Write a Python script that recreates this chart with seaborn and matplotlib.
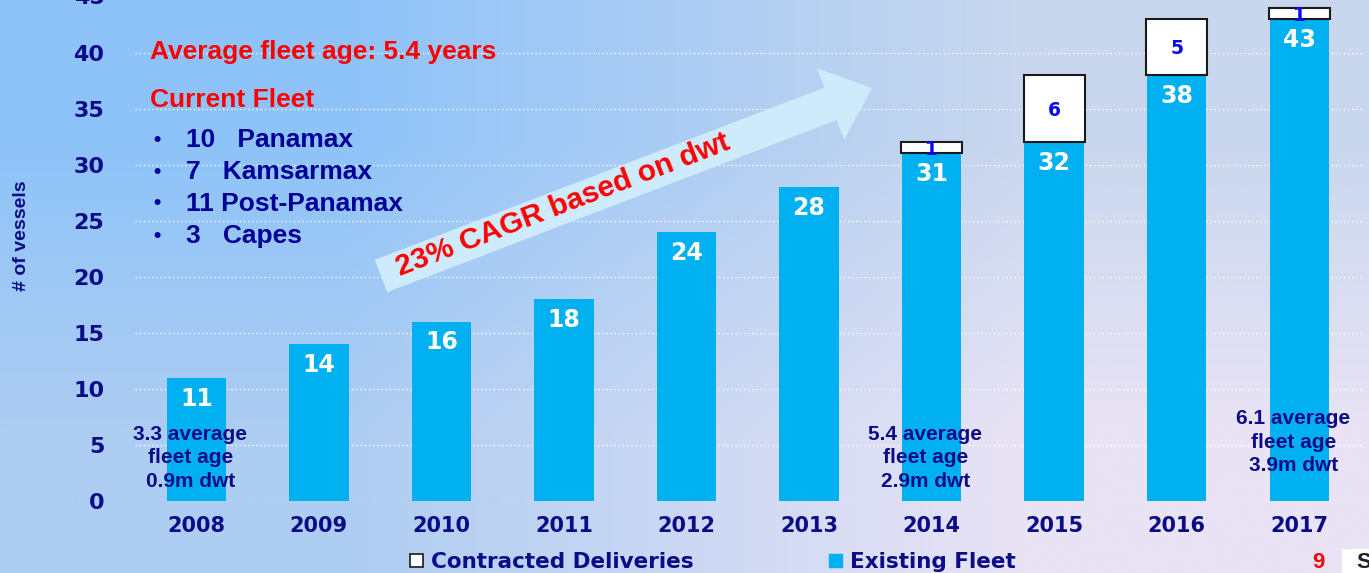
import numpy as np
import pandas as pd
import seaborn as sns
import matplotlib.pyplot as plt
from matplotlib.patches import FancyArrowPatch, ArrowStyle, Patch, Rectangle

# Fleet development by year (number of vessels)
years = ["2008", "2009", "2010", "2011", "2012", "2013", "2014", "2015", "2016", "2017"]
existing_fleet = [11, 14, 16, 18, 24, 28, 31, 32, 38, 43]
contracted = [0, 0, 0, 0, 0, 0, 1, 6, 5, 1]
y_ticks = [0, 5, 10, 15, 20, 25, 30, 35, 40, 45]

# Current fleet breakdown
fleet_mix = ["10   Panamax", "7   Kamsarmax", "11 Post-Panamax", "3   Capes"]

# Age / dwt notes under a few bars
note_years = ["2008", "2014", "2017"]
note_texts = [
    "3.3 average\nfleet age\n0.9m dwt",
    "5.4 average\nfleet age\n2.9m dwt",
    "6.1 average\nfleet age\n3.9m dwt",
]

W, H = 1369, 573
NAVY = "#0C0C86"
CYAN = "#00B0F0"
RED = "#FF0000"


def fx(px):
    """pixel x -> figure fraction"""
    return px / W


def fy(py):
    """pixel y (from top) -> figure fraction"""
    return 1 - py / H


sns.set_style("white")
plt.rcParams["font.family"] = ["Liberation Sans", "DejaVu Sans"]

fig = plt.figure(figsize=(W / 100, H / 100), dpi=100)

# diagonal blue -> lavender background
bg = fig.add_axes([0, 0, 1, 1], zorder=-10)
corners = np.array(
    [
        [[0x8E, 0xC3, 0xF9], [0xC9, 0xD7, 0xEE]],
        [[0xAD, 0xCD, 0xF2], [0xE9, 0xE3, 0xF5]],
    ]
) / 255.0
bg.imshow(corners, aspect="auto", interpolation="bilinear", extent=[0, 1, 0, 1])
bg.set_axis_off()

ax = fig.add_axes([fx(135), 72 / H, fx(1363) - fx(135), 504.5 / H])
ax.set_facecolor("none")

df = pd.DataFrame({"year": years, "existing": existing_fleet, "contracted": contracted})
sns.barplot(data=df, x="year", y="existing", order=years, color=CYAN,
            width=0.485, saturation=1, linewidth=0, ax=ax, zorder=3)

pending = df[df["contracted"] > 0]
sns.barplot(data=pending, x="year", y="contracted", order=years, color="white",
            width=0.5, saturation=1, edgecolor="#1A1A1A", linewidth=1.5,
            bottom=pending["existing"].tolist(), ax=ax, zorder=3)

# value labels
for i, (e, c) in enumerate(zip(existing_fleet, contracted)):
    ax.annotate(str(e), (i, e), xytext=(0, -15), textcoords="offset points",
                ha="center", va="center", color="white", fontsize=17,
                fontweight="bold", family="DejaVu Sans", zorder=5)
    if c:
        ax.text(i, e + c / 2, str(c), ha="center", va="center_baseline",
                color="#0A0AE6", fontsize=13.5, fontweight="bold",
                family="DejaVu Sans", zorder=5)

ax.set_xlim(-0.5, 9.52)
ax.set_ylim(0, 45)
ax.set_yticks(y_ticks)
ax.yaxis.grid(True, color="white", linestyle=(0, (1, 2)), linewidth=1, alpha=0.9)
ax.set_axisbelow(True)
for s in ax.spines.values():
    s.set_visible(False)
ax.tick_params(axis="both", length=0)
ax.tick_params(axis="y", pad=22)
ax.tick_params(axis="x", pad=11)
for lab in ax.get_yticklabels():
    lab.set_fontfamily("DejaVu Sans")
    lab.set_fontweight("bold")
    lab.set_fontsize(16)
    lab.set_color(NAVY)
for lab in ax.get_xticklabels():
    lab.set_fontfamily("DejaVu Sans")
    lab.set_fontweight("bold")
    lab.set_fontsize(15)
    lab.set_color(NAVY)
ax.set_xlabel("")
ax.set_ylabel("")

fig.text(fx(22), fy(236), "# of vessels", rotation=90, ha="center", va="center",
         fontsize=14, fontweight="bold", color=NAVY)

# notes
for yr, txt in zip(note_years, note_texts):
    i = years.index(yr)
    yc = 5.26 if yr == "2017" else 3.84
    ax.text(i - 0.05, yc, txt, ha="center", va="center", fontsize=15,
            fontweight="bold", color=NAVY, linespacing=1.32, zorder=6)

# red headline and fleet list
fig.text(fx(150), fy(52), "Average fleet age: 5.4 years", ha="left", va="center",
         fontsize=19, fontweight="bold", color=RED)
fig.text(fx(150), fy(100), "Current Fleet", ha="left", va="center",
         fontsize=19, fontweight="bold", color=RED)
for k, item in enumerate(fleet_mix):
    yy = fy(140 + 32 * k)
    fig.text(fx(153), yy, "\u2022", ha="left", va="center", fontsize=15,
             fontweight="bold", color="#000099")
    fig.text(fx(186), yy, item, ha="left", va="center", fontsize=19,
             fontweight="bold", color="#000099")

# growth arrow
arrow = FancyArrowPatch((fx(381), fy(276)), (fx(872), fy(88)),
                        transform=fig.transFigure,
                        arrowstyle=ArrowStyle.Simple(head_length=32, head_width=55,
                                                     tail_width=25),
                        mutation_scale=1, shrinkA=0, shrinkB=0,
                        color="#CDEBFB", linewidth=0, zorder=2)
ax.add_patch(arrow)
fig.text(fx(563), fy(205), "23% CAGR based on dwt", rotation=21,
         rotation_mode="anchor", ha="center", va="center", fontsize=21.5,
         fontweight="bold", color=RED, zorder=6)

# legend
handles = [
    Patch(facecolor="white", edgecolor="#1A1A1A", linewidth=1.2, label="Contracted Deliveries"),
    Patch(facecolor=CYAN, edgecolor=CYAN, label="Existing Fleet"),
]
leg = fig.legend(handles=handles, loc="center", bbox_to_anchor=(fx(713), fy(562)),
                 ncol=2, frameon=False, handlelength=0.6, handleheight=0.6,
                 handletextpad=0.37, columnspacing=6.3,
                 prop={"family": "DejaVu Sans", "weight": "bold", "size": 15.5})
for t in leg.get_texts():
    t.set_color(NAVY)

# page number and cropped logo
fig.text(fx(1318), fy(562), "9", ha="center", va="center", fontsize=16,
         fontweight="bold", color=RED)
fig.patches.append(Rectangle((fx(1342), 0), 1 - fx(1342), fy(549),
                             transform=fig.transFigure, facecolor="white",
                             edgecolor="none"))
fig.text(fx(1356), fy(562), "S", ha="left", va="center", fontsize=16,
         fontweight="bold", color="#222222")

fig.savefig("out.png", dpi=100)
